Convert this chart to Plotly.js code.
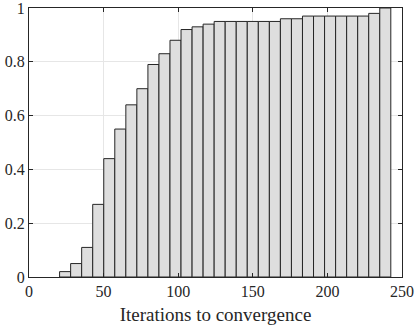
<!DOCTYPE html>
<html>
<head>
<meta charset="utf-8">
<script src="https://cdn.plot.ly/plotly-3.0.1.min.js"></script>
<style>
  html, body { margin: 0; padding: 0; background: #fff; }
  #grafica { width: 415px; height: 325px; }
</style>
</head>
<body>
<div id="grafica"></div>
<script>
// cumulative fraction of runs converged, one value per bin
const binStart = 20.5;
const binWidth = 7.4;
const fraccion = [
  0.02, 0.05, 0.11, 0.27, 0.44, 0.55, 0.64, 0.70, 0.79, 0.83,
  0.88, 0.92, 0.93, 0.94, 0.95, 0.95, 0.95, 0.95, 0.95, 0.95,
  0.96, 0.96, 0.97, 0.97, 0.97, 0.97, 0.97, 0.97, 0.98, 1.00
];
const xTicks = [0, 50, 100, 150, 200, 250];
const yTicks = [0, 0.2, 0.4, 0.6, 0.8, 1];
const yTickText = ['0', '0.2', '0.4', '0.6', '0.8', '1'];

const centros = fraccion.map((v, i) => binStart + (i + 0.5) * binWidth);

const fuente = { family: 'Liberation Serif', size: 16, color: '#262626' };

const datos = [{
  type: 'bar',
  x: centros,
  y: fraccion,
  width: binWidth,
  marker: {
    color: '#dedede',
    line: { color: '#262626', width: 1 }
  },
  hoverinfo: 'skip'
}];

const ejeComun = {
  showline: true,
  linecolor: '#262626',
  linewidth: 1,
  mirror: 'ticks',
  ticks: 'inside',
  ticklen: 4,
  tickcolor: '#262626',
  showgrid: true,
  gridcolor: '#e6e6e6',
  gridwidth: 1,
  zeroline: false,
  ticklabeloverflow: 'allow',
  tickfont: fuente
};

const layout = {
  width: 415,
  height: 325,
  margin: { l: 29, r: 13, t: 8, b: 48 },
  paper_bgcolor: '#ffffff',
  plot_bgcolor: '#ffffff',
  showlegend: false,
  bargap: 0,
  xaxis: Object.assign({}, ejeComun, {
    range: [0, 250],
    tickvals: xTicks,
    ticktext: xTicks.map(String),
    title: { text: 'Iterations to convergence', font: { family: 'Liberation Serif', size: 19, color: '#262626' }, standoff: 8 }
  }),
  yaxis: Object.assign({}, ejeComun, {
    range: [0, 1],
    tickvals: yTicks,
    ticktext: yTickText
  })
};

Plotly.newPlot('grafica', datos, layout, { staticPlot: true, displayModeBar: false });
</script>
</body>
</html>
